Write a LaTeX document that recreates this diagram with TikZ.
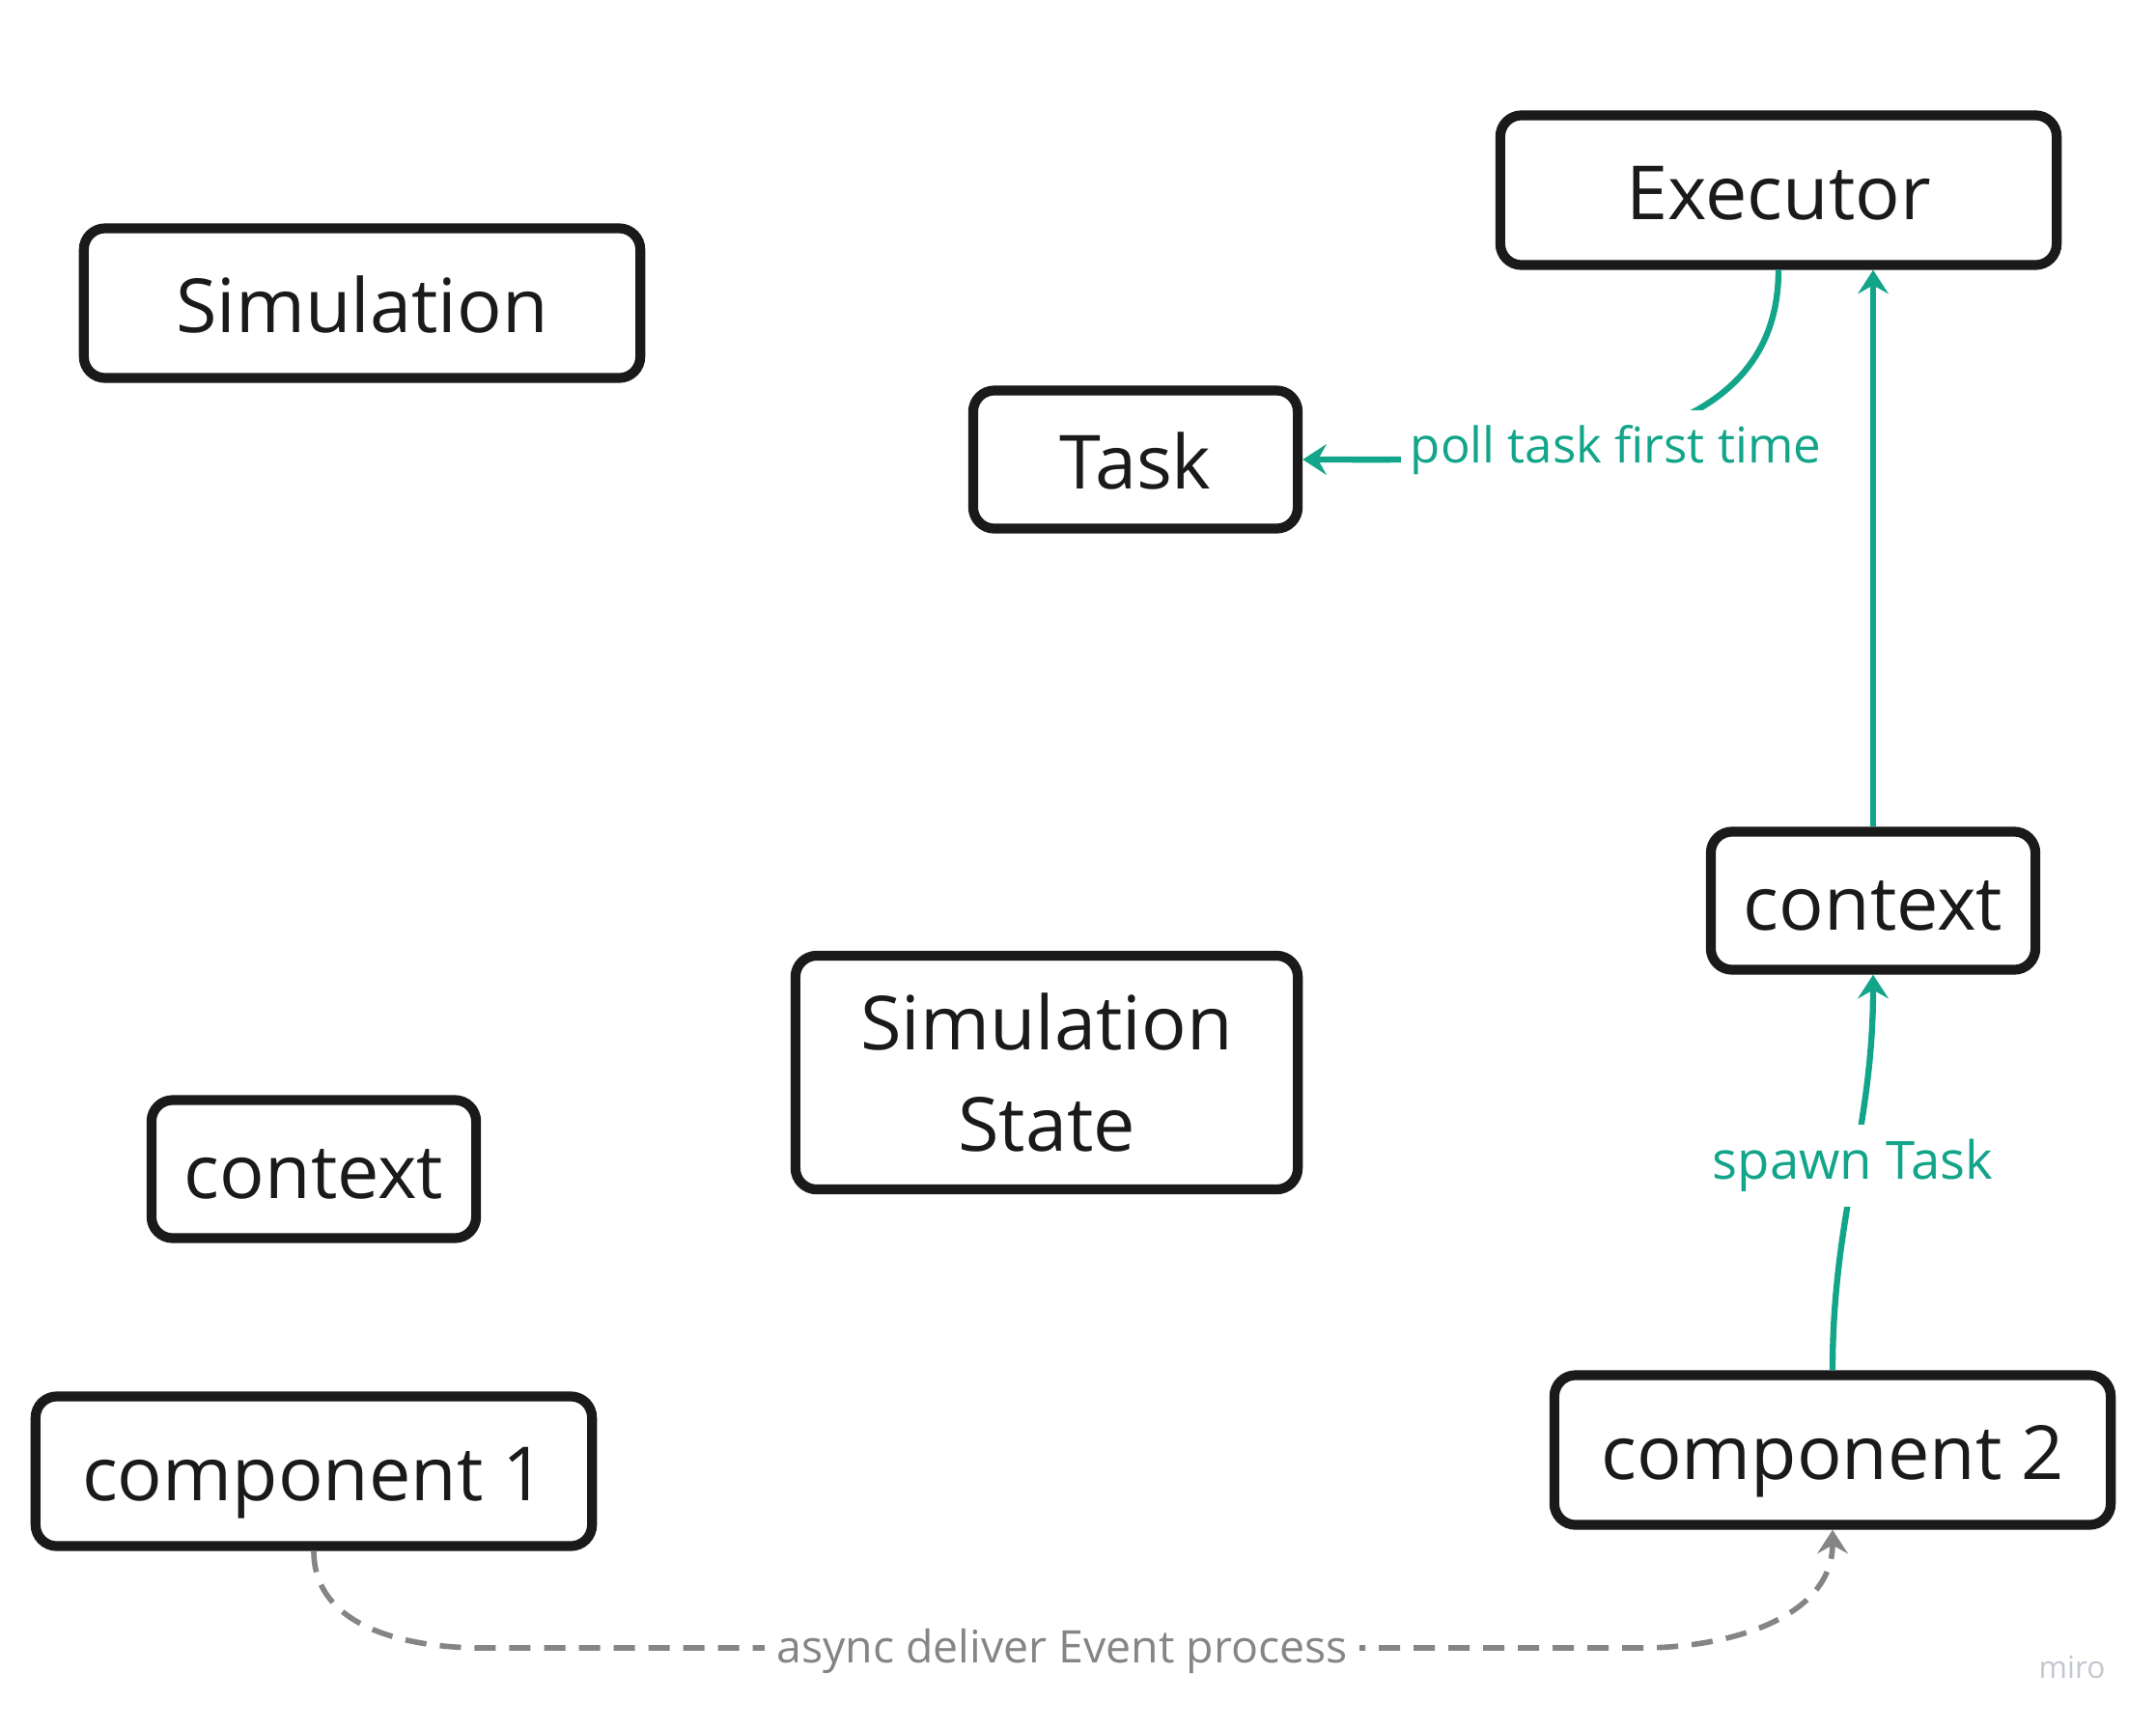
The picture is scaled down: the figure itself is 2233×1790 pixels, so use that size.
\documentclass[tikz,border=0pt]{standalone}
\usepackage{fontspec}
\setmainfont{Open Sans}
\usepackage{xcolor}
\usepackage{tikz}
\usetikzlibrary{arrows, arrows.meta}
\definecolor{boxline}{HTML}{1A1A1A}
\definecolor{flowgreen}{HTML}{12A589}
\definecolor{eventgray}{HTML}{858585}
\definecolor{wmgray}{HTML}{C3C7CF}
\tikzset{
	block/.style={draw=boxline, line width=2.9pt, rounded corners=0.22cm, text=boxline, align=center, inner sep=0pt, font=\fontsize{22}{29.6}\selectfont},
	oneline/.style={block, text height=17.6pt, text depth=0pt},
	wideblock/.style={oneline, minimum width=5.76cm, minimum height=1.55cm},
	smallblock/.style={oneline, minimum width=3.36cm, minimum height=1.43cm},
	flowline/.style={draw=flowgreen, line width=1.8pt, -{Stealth[length=7pt, width=9pt, inset=2.5pt]}},
	flowlabel/.style={fill=white, text=flowgreen, inner xsep=0.1cm, inner ysep=0.15cm, font=\fontsize{14.5}{16}\selectfont},
	eventline/.style={draw=eventgray, line width=1.6pt, dash pattern=on 0.22cm off 0.14cm, -{Stealth[length=7pt, width=9pt, inset=2.5pt]}},
	eventlabel/.style={fill=white, text=eventgray, inner xsep=0.12cm, inner ysep=0.1cm, font=\fontsize{13.2}{15}\selectfont},
}

\begin{document}
\begin{tikzpicture}[x=0.01cm, y=-0.01cm]
				\path[fill=white, use as bounding box] (0,0) rectangle (2233,1790);
				\node[wideblock](sim) at (375,314){Simulation};
				\node[wideblock](exec) at (1842,197){Executor};
				\node[smallblock](task) at (1176,476){Task};
				\node[smallblock](ctx2) at (1940,933){context};
				\node[block, minimum width=5.2cm, minimum height=2.42cm](state) at (1084,1111){Simulation\\State};
				\node[smallblock](ctx1) at (325,1211){context};
				\node[wideblock](comp1) at (325,1524){component 1};
				\node[wideblock](comp2) at (1898,1502){component 2};
				\coordinate(evl) at (500,1707);
				\coordinate(evr) at (1700,1707);
				\draw[flowline] (exec.south) to[out=-90, in=0] node[flowlabel, yshift=-0.1cm]{poll task first time} (task.east);
				\draw[flowline] (ctx2.north) -- (ctx2.north |- exec.south);
				\draw[flowline] (comp2.north) to[out=90, in=-90] node[flowlabel, yshift=0.07cm, font=\fontsize{15.5}{17}\selectfont]{spawn Task} (ctx2.south);
				\draw[eventline] (comp1.south) to[out=-90, in=180] (evl) -- node[eventlabel, yshift=-0.03cm]{async deliver Event process} (evr) to[out=0, in=-90] (comp2.south);
				\node[text=wmgray, font=\fontsize{9}{10}\selectfont](miro) at (2146,1727){miro};
			\end{tikzpicture}
\end{document}
